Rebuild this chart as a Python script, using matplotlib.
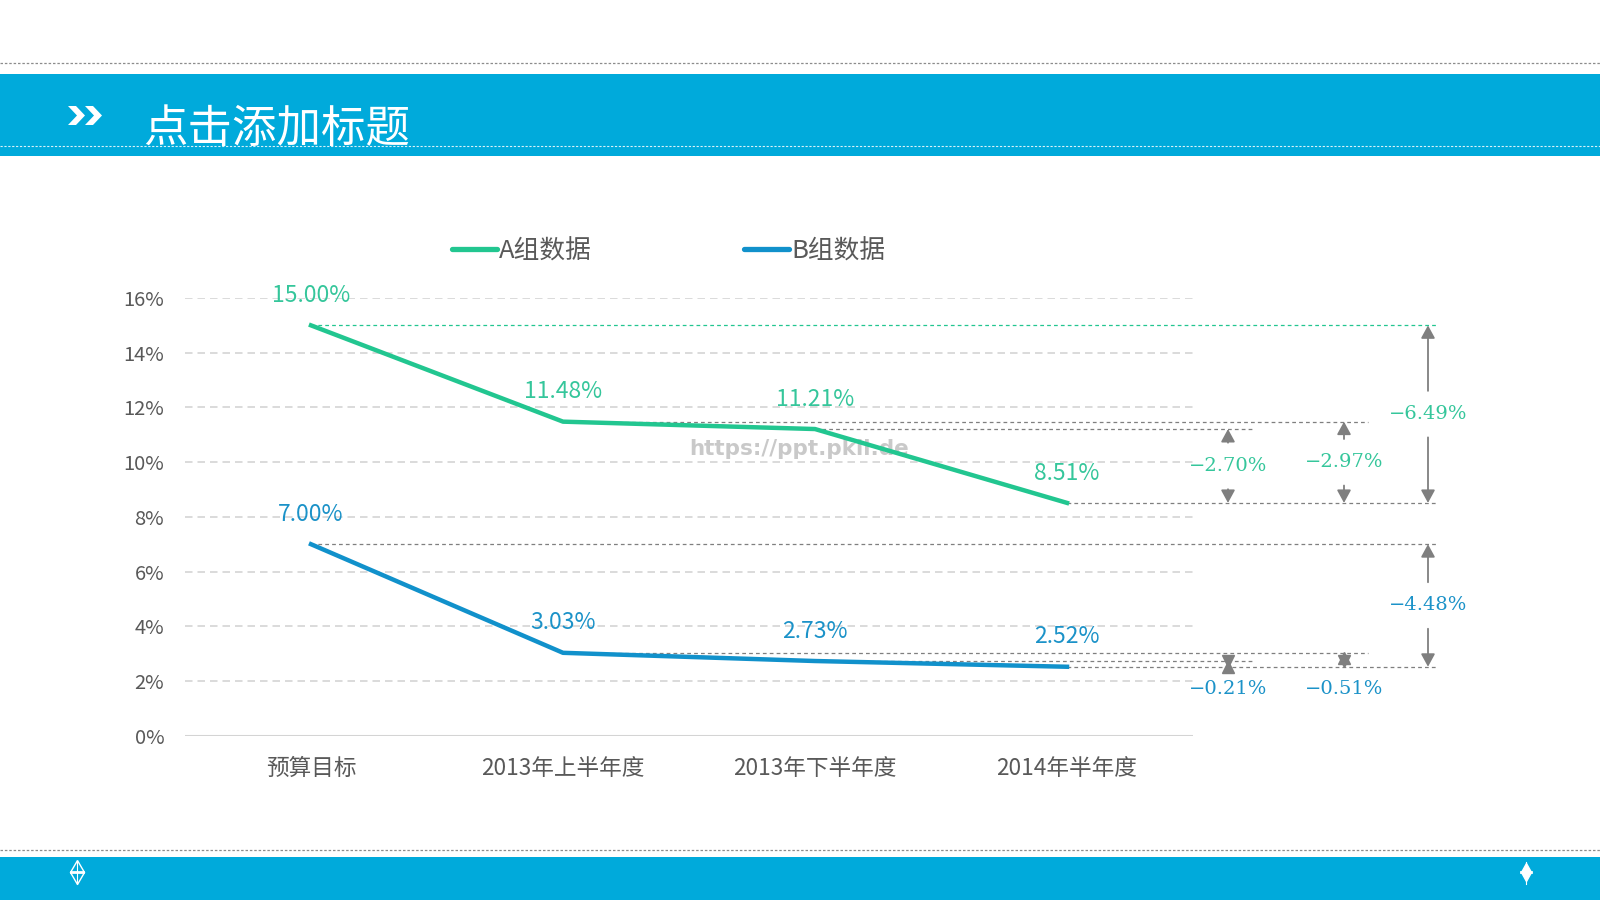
import matplotlib.pyplot as plt
from matplotlib.patches import Rectangle, Polygon
from matplotlib.transforms import offset_copy

plt.rcParams['font.family'] = ['Noto Sans CJK SC', 'DejaVu Sans']

# data
categories = ['预算目标', '2013年上半年度', '2013年下半年度', '2014年半年度']
group_a = [15.00, 11.48, 11.21, 8.51]
group_b = [7.00, 3.03, 2.73, 2.52]
series_names = ['A组数据', 'B组数据']
yticks = [0, 2, 4, 6, 8, 10, 12, 14, 16]
title = '点击添加标题'
watermark = 'https://ppt.pkll.de'

GREEN = '#22C690'
BLUE = '#1191CB'
GREEN_TXT = '#35C69B'
BLUE_TXT = '#1B92C8'
BAR = '#00AADB'
GRAY = '#7F7F7F'
TXT = '#595959'

W, H = 1600, 900
fig = plt.figure(figsize=(16, 9), dpi=100)
fig.patch.set_facecolor('white')

# decoration layer in pixel coords
deco = fig.add_axes([0, 0, 1, 1], zorder=-1)
deco.set_xlim(0, W)
deco.set_ylim(H, 0)
deco.axis('off')

# header
deco.add_patch(Rectangle((0, 73.5), W, 82.5, color=BAR, lw=0))
deco.plot([0, W], [63, 63], color='#8C8C8C', lw=0.9, ls=(0, (2, 1.5)))
deco.plot([0, W], [146, 146], color='white', lw=0.8, ls=(0, (2, 1.5)), alpha=0.85)
for x0 in (68, 85):
    deco.add_patch(Polygon([(x0, 106), (x0 + 8, 106), (x0 + 17, 115.5),
                            (x0 + 8, 125), (x0, 125), (x0 + 9, 115.5)],
                           closed=True, color='white', lw=0))
deco.text(143, 129, title, fontsize=32, color='white', va='center', ha='left')

# footer
deco.add_patch(Rectangle((0, 857), W, 43, color=BAR, lw=0))
deco.plot([0, W], [850, 850], color='#8C8C8C', lw=0.9, ls=(0, (2, 1.5)))
deco.plot([77, 77], [861, 884], color='white', lw=0.8)
deco.plot([77], [872], marker='d', ms=12, mfc='none', mec='white', mew=1)
deco.plot([71, 83], [872, 872], color='white', lw=2)
deco.plot([1526, 1526], [862, 884], color='white', lw=0.8)
deco.plot([1526], [872], marker='d', ms=9, color='white')
deco.plot([1521, 1531], [872, 872], color='white', lw=2)

# legend
for (x0, x1), name, col in zip([(452, 497), (744, 789)], series_names, [GREEN, BLUE]):
    deco.plot([x0, x1], [249, 249], color=col, lw=3.8, solid_capstyle='round')
    deco.text(x1 + 2, 252, name, fontsize=18.5, color=TXT, va='center', ha='left')

# watermark
deco.text(799, 449, watermark, fontsize=15.5, color='#C4C4C4', fontweight='bold',
          family='DejaVu Sans', ha='center', va='center', zorder=5, alpha=0.9)

# main chart
AX_L, AX_R, AX_T, AX_B = 185, 1193, 298, 735.7
ax = fig.add_axes([AX_L / W, 1 - AX_B / H, (AX_R - AX_L) / W, (AX_B - AX_T) / H])
ax.set_facecolor('none')
ax.set_xlim(-0.5, 3.5)
ax.set_ylim(0, 16)


def px2x(px):
    return -0.5 + (px - AX_L) / (AX_R - AX_L) * 4


for v in yticks[1:]:
    ax.axhline(v, color='#D4D4D4', lw=1.2, ls=(0, (4.5, 3)), zorder=1)
ax.axhline(0, color='#D4D4D4', lw=1.5, zorder=1)
for s in ax.spines.values():
    s.set_visible(False)
ax.set_yticks(yticks)
ax.set_yticklabels([f'{v}%' for v in yticks], fontsize=14.5, color=TXT)
xs = list(range(len(categories)))
ax.set_xticks(xs)
ax.set_xticklabels(categories, fontsize=16.3, color=TXT)
ax.tick_params(axis='y', length=0, pad=15)
ax.tick_params(axis='x', length=0, pad=15.5)

ax.plot(xs, group_a, color=GREEN, lw=3.2, zorder=4)
ax.plot(xs, group_b, color=BLUE, lw=3.2, zorder=4)

for vals, col in [(group_a, GREEN_TXT), (group_b, BLUE_TXT)]:
    for x, v in zip(xs, vals):
        ax.annotate(f'{v:.2f}%', (x, v), xytext=(0, 21.5), textcoords='offset points',
                    ha='center', va='center', fontsize=16.5, color=col, zorder=6)

# comparison annotations
line_end = [1436, 1368, 1255, 1436]
arrow_x = {2: 1228, 1: 1344, 0: 1428}
arrow_style = '-|>,head_length=0.55,head_width=0.3'
GAP = 0.85
HEAD = 8  # marker size (pt) for the short arrows
up_tr = offset_copy(ax.transData, fig=fig, x=0, y=-HEAD / 2, units='points')
dn_tr = offset_copy(ax.transData, fig=fig, x=0, y=HEAD / 2, units='points')

for vals, txtcol, below in [(group_a, GREEN_TXT, set()), (group_b, BLUE_TXT, {1, 2})]:
    last = vals[-1]
    for i, v in enumerate(vals):
        lc = GREEN if (vals is group_a and i == 0) else GRAY
        ax.plot([i, px2x(line_end[i])], [v, v], color=lc, lw=0.9,
                ls=(0, (3, 2.5)), clip_on=False, zorder=3)
    for i, xp in arrow_x.items():
        hi = vals[i]
        diff = last - hi
        x = px2x(xp)
        mid = (hi + last) / 2
        label = f'{diff:.2f}%'.replace('-', '−')
        if i in below:
            ax.plot([x], [hi], marker='^', ms=HEAD, color=GRAY, transform=up_tr, clip_on=False)
            ax.plot([x], [last], marker='v', ms=HEAD, color=GRAY, transform=dn_tr, clip_on=False)
            ty = last - 0.8
        else:
            for st, end in zip((mid + GAP, mid - GAP), (hi, last)):
                ax.annotate('', xy=(x, end), xytext=(x, st),
                            arrowprops=dict(arrowstyle=arrow_style, color=GRAY, lw=1.3,
                                            shrinkA=0, shrinkB=0, mutation_scale=14),
                            annotation_clip=False)
            ty = mid
        ax.text(x, ty, label, fontsize=14, color=txtcol, family='DejaVu Serif',
                ha='center', va='center', clip_on=False)

fig.savefig('out.png', dpi=100, facecolor='white')
